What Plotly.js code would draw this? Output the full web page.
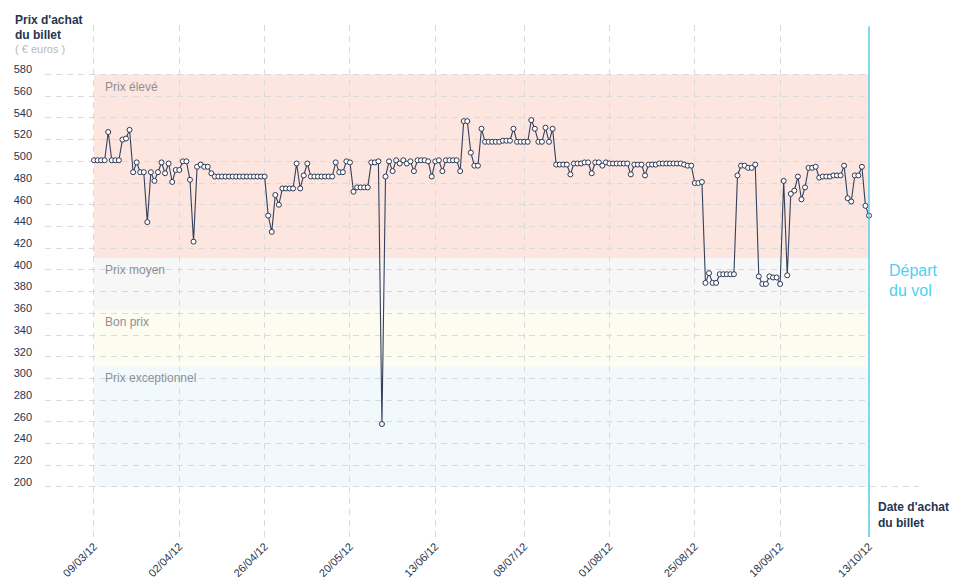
<!DOCTYPE html>
<html>
<head>
<meta charset="utf-8">
<script src="https://cdn.plot.ly/plotly-3.0.1.min.js"></script>
<style>html,body{margin:0;padding:0;background:#fff;}#chart{width:958px;height:585px;}</style>
</head>
<body>
<div id="chart"></div>
<script>
// ---- data ----
var startDate = '2012-03-09';
var endDate = '2012-10-13';
var prices = [
  501,501,501,501,527,501,501,501,520,521,
  529,490,499,490,490,444,490,482,490,499,
  489,498,481,492,492,500,500,483,426,495,
  497,495,495,489,486,486,486,486,486,486,
  486,486,486,486,486,486,486,486,486,450,
  435,469,460,475,475,475,475,498,475,487,
  498,486,486,486,486,486,486,486,499,490,
  490,500,499,472,476,476,476,476,499,499,
  500,258,486,500,491,501,498,501,498,500,
  491,501,501,501,500,486,500,501,491,501,
  501,501,501,491,537,537,508,496,496,530,
  518,518,518,518,518,519,519,519,530,518,
  518,518,518,538,530,518,518,531,518,530,
  497,497,497,497,488,498,498,498,499,499,
  489,499,499,496,499,498,498,498,498,498,
  498,488,497,497,497,487,497,497,497,498,
  498,498,498,498,498,498,497,496,496,480,
  480,481,388,397,388,388,396,396,396,396,
  396,487,496,496,494,494,497,394,387,387,
  394,393,393,387,482,395,470,473,486,465,
  476,494,494,495,485,486,486,486,487,487,
  487,496,466,463,487,487,495,459,450
];
var tickDates = ['2012-03-09','2012-04-02','2012-04-26','2012-05-20','2012-06-13',
                 '2012-07-08','2012-08-01','2012-08-25','2012-09-18','2012-10-13'];
var tickLabels = ['09/03/12','02/04/12','26/04/12','20/05/12','13/06/12',
                  '08/07/12','01/08/12','25/08/12','18/09/12','13/10/12'];
var yTicks = [200,220,240,260,280,300,320,340,360,380,400,420,440,460,480,500,520,540,560,580];
var bandNames = ['Prix élevé','Prix moyen','Bon prix','Prix exceptionnel'];
var bandTops = [580, 411, 363, 311];
var bandBottoms = [411, 363, 311, 200];
var bandColors = ['#fde6df','#f7f7f7','#fcfcf1','#f1f9fd'];

// ---- chart ----
var navy = '#26344f';
var font = 'Liberation Sans, Arial, Helvetica, sans-serif';

var trace = {
  type: 'scatter',
  mode: 'lines+markers',
  x0: startDate,
  dx: 86400000,
  y: prices,
  line: {color: '#34405c', width: 1.1},
  marker: {size: 5, color: '#ffffff', line: {color: '#2c3854', width: 1}},
  hoverinfo: 'x+y'
};

var shapes = [];
var annotations = [];
for (var i = 0; i < bandNames.length; i++) {
  shapes.push({type: 'rect', xref: 'x', yref: 'y', layer: 'below',
    x0: startDate, x1: endDate, y0: bandBottoms[i], y1: bandTops[i],
    fillcolor: bandColors[i], line: {width: 0}});
  annotations.push({xref: 'x', yref: 'y', x: startDate, y: bandTops[i],
    xanchor: 'left', yanchor: 'top', xshift: 9, yshift: -3, showarrow: false,
    text: bandNames[i], font: {family: font, size: 12, color: '#8d8f98'}});
}
// hide grid right of the departure line (except the baseline)
shapes.push({type: 'rect', xref: 'x', yref: 'y', layer: 'between',
  x0: endDate, x1: '2012-10-28', y0: 201, y1: 630, fillcolor: '#ffffff', line: {width: 0}});
// departure line
shapes.push({type: 'line', xref: 'x', yref: 'y', layer: 'above',
  x0: endDate, x1: endDate, y0: 154, y1: 624.5, line: {color: '#4cc9e9', width: 1.4}});

function txt(x, y, text, size, color) {
  return {xref: 'paper', yref: 'paper', x: x, y: y, xanchor: 'left', yanchor: 'middle',
    align: 'left', showarrow: false, borderpad: 0,
    text: text, font: {family: font, size: size, color: color}};
}
// pixel -> paper helpers for free text placement (plot area: x 45..919, y 25..537)
function px(x) { return (x - 45) / 874; }
function py(y) { return (537 - y) / 512; }

annotations.push(txt(px(14), py(20), "<b>Prix d'achat</b>", 12, navy));
annotations.push(txt(px(14), py(35), "<b>du billet</b>", 12, navy));
annotations.push(txt(px(14), py(48.5), "( € euros )", 11, '#b8b8b8'));
annotations.push(txt(px(877), py(506.5), "<b>Date d'achat</b>", 12, navy));
annotations.push(txt(px(877), py(522.5), "<b>du billet</b>", 12, navy));
annotations.push(txt(px(888), py(270), "Départ", 16, '#4fd0f2'));
annotations.push(txt(px(888), py(290), "du vol", 16, '#4fd0f2'));

var layout = {
  width: 958, height: 585,
  margin: {l: 45, r: 39, t: 25, b: 48, pad: 0},
  paper_bgcolor: '#ffffff', plot_bgcolor: '#ffffff',
  showlegend: false,
  font: {family: font, color: navy},
  xaxis: {
    type: 'date',
    range: ['2012-02-24 05:17', '2012-10-27 01:30'],
    tickvals: tickDates, ticktext: tickLabels,
    tickangle: -45, tickfont: {family: font, size: 11, color: navy},
    showgrid: true, gridcolor: '#dadada', gridwidth: 1, griddash: '6px,5px',
    zeroline: false, showline: false, ticks: '', automargin: false,
    fixedrange: true
  },
  yaxis: {
    range: [153.9, 625.6],
    tickvals: yTicks, ticktext: yTicks.map(String),
    tickfont: {family: font, size: 11, color: navy},
    ticklabelstandoff: 12, ticklabelshift: -5,
    showgrid: true, gridcolor: '#dadada', gridwidth: 1, griddash: '6px,5px',
    zeroline: false, showline: false, ticks: '', automargin: false,
    fixedrange: true
  },
  shapes: shapes,
  annotations: annotations
};

Plotly.newPlot('chart', [trace], layout, {displayModeBar: false, staticPlot: true});
</script>
</body>
</html>
